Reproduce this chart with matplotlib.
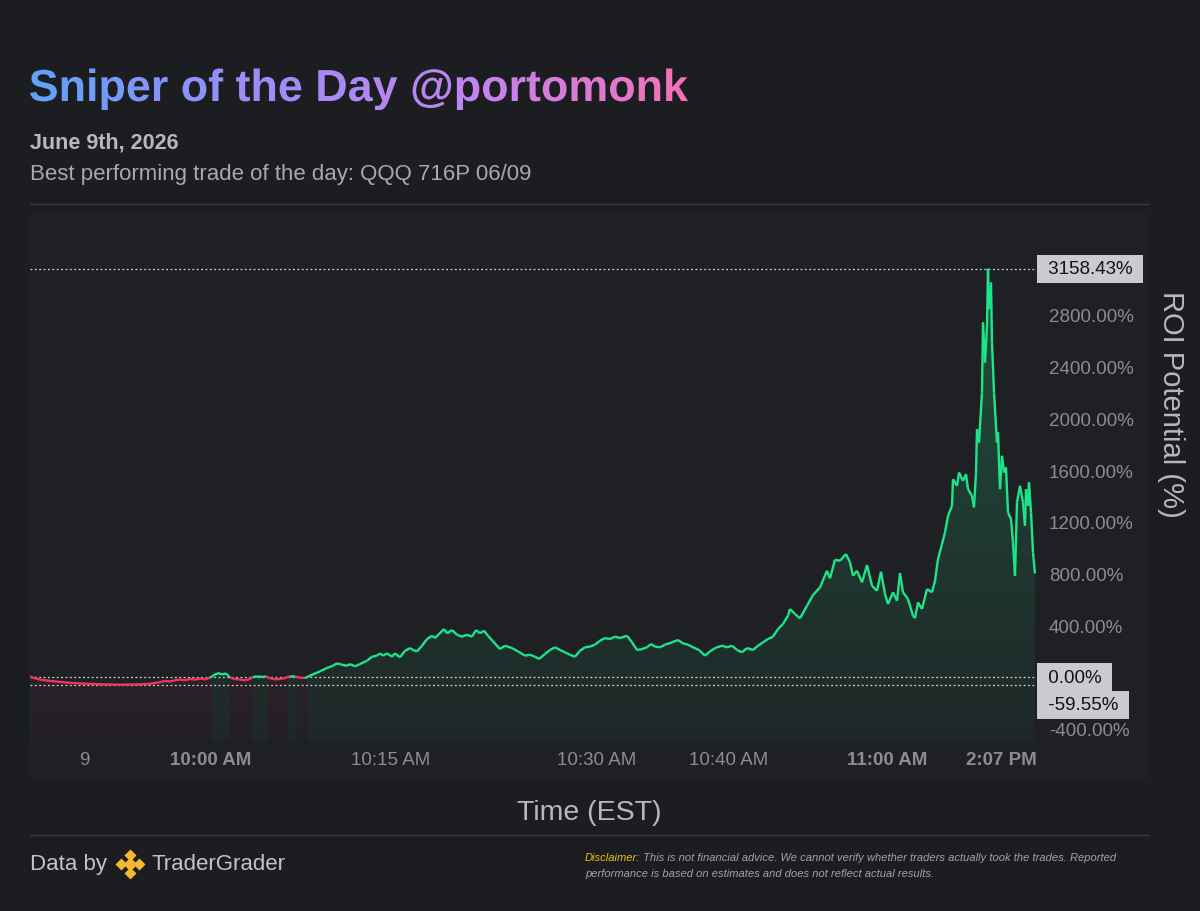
import matplotlib
matplotlib.use('Agg')
import matplotlib.pyplot as plt
import numpy as np
from matplotlib.collections import LineCollection
from matplotlib.colors import LinearSegmentedColormap, to_rgb
from matplotlib.font_manager import FontProperties
from matplotlib.patches import PathPatch, Rectangle
from matplotlib.textpath import TextPath

plt.rcParams['font.family'] = ['Liberation Sans', 'DejaVu Sans']

# ROI series: bar index vs ROI %
t = [0, 5, 10, 20, 30, 40, 50, 60, 70, 80, 90, 100, 110, 120, 130, 135, 140, 145, 150, 155,
     160, 165, 170, 175, 180, 183, 188, 192, 196, 200, 205, 210, 215, 220, 223, 228, 232, 236,
     240, 245, 250, 255, 260, 265, 270, 275, 280, 290, 297, 303, 307, 312, 317, 320, 325, 330,
     337, 342, 347, 350, 353, 357, 362, 365, 370, 375, 380, 383, 387, 392, 397, 402, 405, 409,
     414, 417, 422, 427, 432, 437, 442, 446, 450, 454, 458, 463, 470, 475, 482, 488, 495, 500,
     505, 509, 515, 520, 525, 530, 535, 540, 545, 550, 555, 560, 565, 570, 575, 580, 585, 590,
     597, 602, 607, 612, 617, 621, 625, 630, 635, 642, 648, 653, 658, 663, 669, 675, 680, 685,
     692, 697, 702, 707, 712, 717, 723, 728, 733, 738, 743, 748, 753, 758, 760, 765, 770, 777,
     783, 790, 797, 800, 805, 810, 816, 820, 823, 827, 832, 837, 842, 847, 851, 855, 858, 863,
     867, 870, 873, 878, 883, 885, 888, 892, 897, 902, 905, 908, 912, 915, 918, 922, 923, 927,
     929, 933, 936, 938, 942, 944, 946, 947, 949, 952, 953, 955, 957, 958, 959, 961, 962, 964,
     967, 968, 970, 972, 974, 976, 978, 981, 983, 985, 987, 990, 993, 995, 996, 998, 999, 1001,
     1003, 1005]
roi = [3, -10, -20, -30, -38, -45, -50, -53, -56, -58, -59.55, -58, -57, -52, -40, -30, -35, -25,
       -20, -25, -15, -20, -12, -18, -5, 10, 30, 20, 28, -5, -15, -20, -25, -15, 0, 5, 0, 5,
       -10, -18, -15, -8, 5, 3, -5, -8, 10, 44, 70, 87, 106, 95, 87, 100, 83, 100,
       126, 157, 165, 183, 165, 183, 157, 183, 152, 203, 224, 209, 198, 242, 294, 319, 301, 332,
       371, 338, 363, 327, 312, 327, 312, 363, 338, 358, 319, 276, 216, 242, 224, 198, 165, 172,
       157, 139, 178, 209, 230, 209, 191, 172, 157, 203, 230, 235, 250, 281, 301, 294, 312, 301,
       319, 268, 209, 216, 230, 255, 235, 230, 250, 268, 286, 260, 250, 230, 209, 165, 198, 224,
       242, 230, 242, 209, 191, 224, 209, 242, 268, 294, 312, 371, 410, 474, 526, 487, 454, 551,
       634, 693, 822, 763, 907, 899, 951, 887, 783, 822, 732, 866, 706, 667, 814, 642, 564, 655,
       590, 804, 655, 603, 474, 455, 577, 526, 680, 655, 744, 912, 1028, 1118, 1247, 1324, 1530, 1479,
       1582, 1517, 1569, 1453, 1401, 1312, 1582, 1917, 1814, 2201, 2742, 2433, 2716, 3158.43, 2845, 3051, 2587, 2201,
       1814, 1892, 1453, 1711, 1582, 1621, 1273, 1221, 1041, 783, 1350, 1479, 1350, 1170, 1453, 1324, 1505, 1273,
       964, 800]

tick_pos = [54, 181, 361, 567, 699, 857, 971]
tick_labels = ['9', '10:00 AM', '10:15 AM', '10:30 AM', '10:40 AM', '11:00 AM', '2:07 PM']
bold_ticks = ['10:00 AM', '11:00 AM', '2:07 PM']
y_ticks = [-400, 400, 800, 1200, 1600, 2000, 2400, 2800]

t = np.array(t, dtype=float)
roi = np.array(roi, dtype=float)
roi_max = roi.max()
roi_min = roi.min()

BG = '#1c1d21'
PANEL = '#1f2024'
GREEN = '#1fe58a'
RED = '#ef3461'
YMIN, YMAX = -495, 3527
XMAX = 1006

fig = plt.figure(figsize=(12, 9.12), dpi=100, facecolor=BG)

# background layer in pixel coordinates (y up)
bg = fig.add_axes([0, 0, 1, 1], zorder=0)
bg.set_xlim(0, 1200)
bg.set_ylim(0, 912)
bg.axis('off')
bg.add_patch(Rectangle((30, 912 - 780), 1118, 565, facecolor=PANEL, edgecolor='none'))
bg.plot([30, 1148], [912 - 205, 912 - 205], color='#3a3b40', lw=1)
bg.plot([30, 1148], [912 - 836, 912 - 836], color='#3a3b40', lw=1)

# gradient title
title = 'Sniper of the Day @portomonk'
fp = FontProperties(family='Liberation Sans', weight='bold')
w42 = TextPath((0, 0), title, size=42, prop=fp).get_extents().width
tsize = 42 * 658 / w42
tp = TextPath((0, 0), title, size=tsize, prop=fp)
ext = tp.get_extents()
tp = TextPath((30 - ext.x0, 912 - 102), title, size=tsize, prop=fp)
ext = tp.get_extents()
clip = PathPatch(tp, transform=bg.transData, facecolor='none', edgecolor='none')
bg.add_patch(clip)
cmap = LinearSegmentedColormap.from_list('ttl', ['#5da3fb', '#9d8df6', '#c084f0', '#f472b6'])
im = bg.imshow(np.linspace(0, 1, 256).reshape(1, -1), cmap=cmap, aspect='auto',
               extent=[ext.x0, ext.x1, ext.y0, ext.y1], origin='lower', zorder=3)
im.set_clip_path(clip)
bg.set_xlim(0, 1200)
bg.set_ylim(0, 912)

bg.text(30, 912 - 148, 'June 9th, 2026', fontsize=15.5, fontweight='bold', color='#b9b9bb', va='baseline')
bg.text(30, 912 - 180, 'Best performing trade of the day: QQQ 716P 06/09', fontsize=16,
        color='#a9a9ad', va='baseline')

bg.text(589, 912 - 813, 'Time (EST)', fontsize=20.5, color='#b8b8bb', ha='center', va='center')
bg.text(1171, 912 - 404, 'ROI Potential (%)', fontsize=21, color='#b8b8bb', ha='center',
        va='center', rotation=-90)

# footer
bg.text(30, 912 - 865, 'Data by', fontsize=16, color='#c4c4c6', va='center')
for dx, dy, s in [(0, 0, 7), (-9, 0, 6), (9, 0, 6), (0, 9, 6), (0, -9, 6)]:
    bg.plot(130 + dx, 912 - 865 + dy, marker='D', ms=s, color='#f3ba2f', mec='none')
bg.text(151, 912 - 865, 'TraderGrader', fontsize=16, color='#c4c4c6', va='center')
d1 = bg.text(585, 912 - 861, 'Disclaimer:', fontsize=8, style='italic', color='#e8c21a', va='baseline')
bg.annotate(' This is not financial advice. We cannot verify whether traders actually took the trades. Reported',
            xy=(1, 0), xycoords=d1, fontsize=8, style='italic', color='#a3a3a7', va='bottom')
bg.text(585, 912 - 877, 'performance is based on estimates and does not reflect actual results.',
        fontsize=8, style='italic', color='#a3a3a7', va='baseline')

# main chart
ax = fig.add_axes([30 / 1200, (912 - 742) / 912, XMAX / 1200, 520 / 912], zorder=1)
ax.patch.set_visible(False)
for sp in ax.spines.values():
    sp.set_visible(False)
ax.set_xlim(0, XMAX)
ax.set_ylim(YMIN, YMAX)

# area under the line, tinted green / red by the sign of the line above it
poly = ax.fill_between(t, roi, YMIN, facecolor='none', edgecolor='none')
cp = PathPatch(poly.get_paths()[0], transform=ax.transData, facecolor='none', edgecolor='none')
ax.add_patch(cp)
ncol, nrow = 1006, 300
cx = np.linspace(0, XMAX, ncol)
ry = np.linspace(YMIN, roi_max, nrow)
pos = np.interp(cx, t, roi) >= 0
rgba = np.zeros((nrow, ncol, 4))
rgba[:, pos, :3] = to_rgb(GREEN)
rgba[:, ~pos, :3] = to_rgb(RED)
a_green = np.interp(ry, [YMIN, roi_max], [0.04, 0.24])
a_red = np.interp(ry, [YMIN, 0], [0.02, 0.065])
rgba[:, pos, 3] = a_green[:, None]
rgba[:, ~pos, 3] = a_red[:, None]
g = ax.imshow(rgba, aspect='auto', origin='lower', extent=[0, XMAX, YMIN, roi_max], zorder=1)
g.set_clip_path(cp)
ax.set_xlim(0, XMAX)
ax.set_ylim(YMIN, YMAX)

pts = np.column_stack([t, roi])
segs = np.stack([pts[:-1], pts[1:]], axis=1)
cols = [GREEN if (a + b) / 2 >= 0 else RED for a, b in zip(roi[:-1], roi[1:])]
ax.add_collection(LineCollection(segs, colors=cols, linewidths=1.7, zorder=3))

for lvl in [roi_max, 0, roi_min]:
    ax.axhline(lvl, color='#d0d0d0', lw=0.9, ls=(0, (1.5, 2)), zorder=2)

ax.set_xticks(tick_pos)
ax.set_xticklabels(tick_labels)
ax.tick_params(axis='x', length=0, pad=7, labelsize=13.5, labelcolor='#8d8d90')
for lab in ax.get_xticklabels():
    if lab.get_text() in bold_ticks:
        lab.set_fontweight('bold')

ax.yaxis.tick_right()
ax.set_yticks(y_ticks)
ax.set_yticklabels([f'{v:.2f}%' for v in y_ticks])
ax.tick_params(axis='y', length=0, pad=9.4, labelsize=13.5, labelcolor='#8d8d90')

box = dict(boxstyle='square,pad=0.3', facecolor='#c9cbd0', edgecolor='none')
for val, dy in [(roi_max, 0), (0, 0), (roi_min, -14.5)]:
    ax.annotate(f' {val:.2f}% ', xy=(1.0, val), xycoords=('axes fraction', 'data'),
                xytext=(4.7, dy), textcoords='offset points', fontsize=13.5, color='#111111',
                va='center', ha='left', bbox=box, zorder=5)

fig.savefig('out.png', dpi=100, facecolor=BG)
